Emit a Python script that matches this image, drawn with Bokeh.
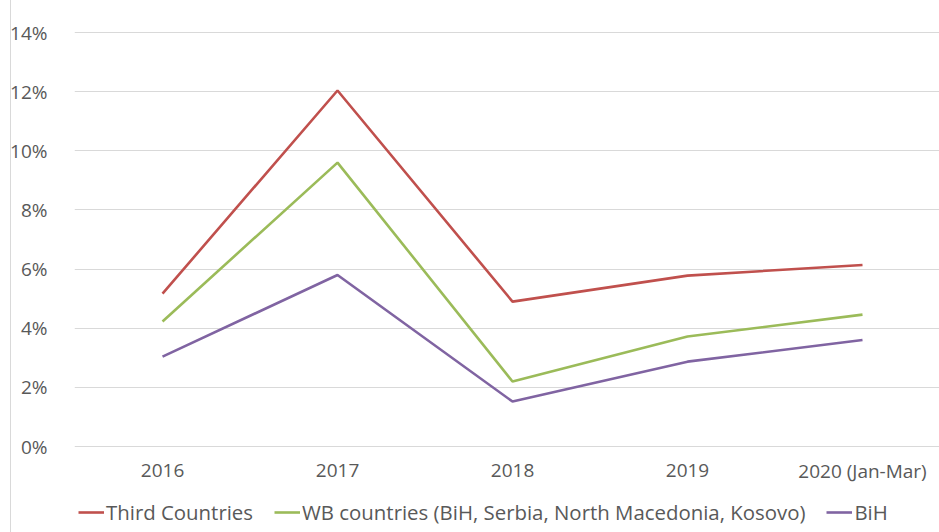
from bokeh.plotting import figure
from bokeh.models import FixedTicker, Range1d, Legend, LegendItem, ColumnDataSource
from bokeh.core.properties import value
from bokeh.embed import file_html
from bokeh.resources import INLINE

categories = ["2016", "2017", "2018", "2019", "2020 (Jan-Mar)"]
third_countries = [5.17, 12.04, 4.90, 5.78, 6.14]
wb_countries = [4.23, 9.60, 2.20, 3.72, 4.46]
bih = [3.04, 5.80, 1.52, 2.87, 3.60]
y_ticks = [0, 2, 4, 6, 8, 10, 12, 14]
y_labels = ["0%", "2%", "4%", "6%", "8%", "10%", "12%", "14%"]

series_names = ["Third Countries", "WB countries (BiH, Serbia, North Macedonia, Kosovo)", "BiH"]
series_values = [third_countries, wb_countries, bih]
series_colors = ["#C0504D", "#9BBB59", "#8064A2"]

xs = list(range(len(categories)))

FONT = "Open Sans"
TXT = "#595959"

p = figure(width=939, height=532, output_backend="svg", toolbar_location=None,
           x_range=Range1d(-0.503, 4.44), y_range=Range1d(-2.908, 15.083),
           min_border_left=74, min_border_right=0, min_border_top=0,
           min_border_bottom=0)
p.outline_line_color = None
p.background_fill_color = "white"
p.border_fill_color = None
p.styles = {"background": "linear-gradient(to right, white 10px, #d9d9d9 10px, #d9d9d9 11px, white 11px)"}

renderers = []
for name, vals, col in zip(series_names, series_values, series_colors):
    src = ColumnDataSource(dict(x=xs, y=vals))
    r = p.line("x", "y", source=src, line_color=col, line_width=2.6)
    renderers.append((name, r))

p.xaxis.visible = False
p.xgrid.grid_line_color = None
p.ygrid.grid_line_color = "#d9d9d9"
p.ygrid.grid_line_width = 1
p.yaxis.ticker = FixedTicker(ticks=y_ticks)
p.yaxis.major_label_overrides = {t: l for t, l in zip(y_ticks, y_labels)}
p.ygrid.ticker = FixedTicker(ticks=y_ticks)

ax = p.yaxis[0]
ax.axis_line_color = None
ax.major_tick_line_color = None
ax.minor_tick_line_color = None
ax.major_label_text_font = FONT
ax.major_label_text_color = TXT
ax.major_label_text_font_size = "19px"
ax.major_label_standoff = 21

# category labels along the 0% baseline
lab_src = ColumnDataSource(dict(x=xs, y=[0] * len(xs), t=categories))
p.text("x", "y", text="t", source=lab_src, text_align="center", text_baseline="middle",
       y_offset=24, text_font=value(FONT), text_font_size="19px", text_color=TXT)

legend = Legend(items=[LegendItem(label=n, renderers=[r]) for n, r in renderers],
                orientation="horizontal", location=(4, 6),
                label_text_font=FONT, label_text_font_size="20.4px",
                label_text_color=TXT, glyph_width=26, glyph_height=22,
                label_standoff=2, spacing=21, border_line_color=None,
                background_fill_alpha=0, padding=4, margin=0)
p.add_layout(legend, "center")

open("out.html", "w").write(file_html(p, INLINE))
